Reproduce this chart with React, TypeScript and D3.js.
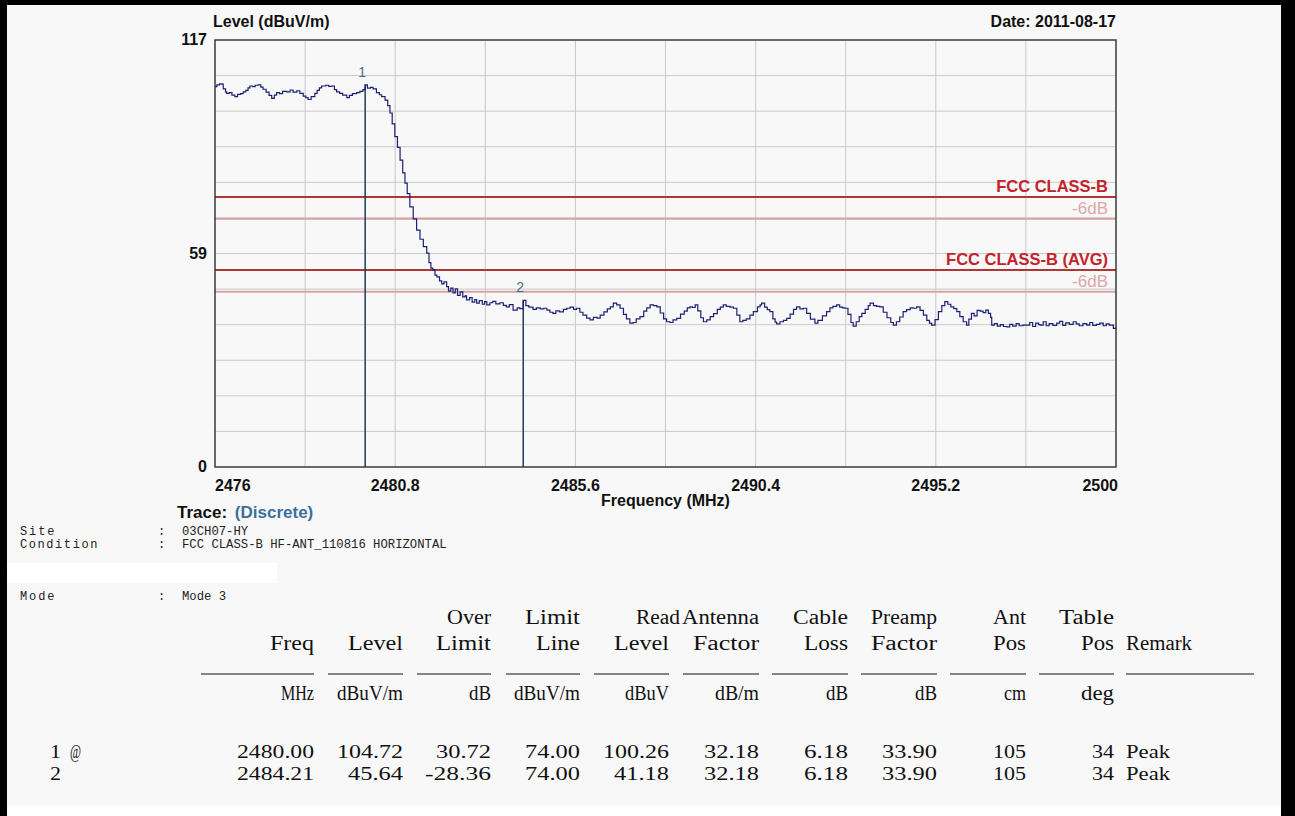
import React from "react";
import * as d3 from "d3";

// ---------------- data ----------------
const traceFreq = [
  2476.00, 2476.05, 2476.12, 2476.18, 2476.22, 2476.28, 2476.31, 2476.38, 2476.45, 2476.53,
  2476.60, 2476.68, 2476.75, 2476.82, 2476.88, 2476.93, 2477.00, 2477.07, 2477.15, 2477.22,
  2477.28, 2477.36, 2477.44, 2477.51, 2477.58, 2477.64, 2477.72, 2477.80, 2477.91, 2478.00,
  2478.08, 2478.18, 2478.26, 2478.35, 2478.42, 2478.48, 2478.56, 2478.66, 2478.72, 2478.78,
  2478.84, 2478.95, 2479.03, 2479.11, 2479.18, 2479.24, 2479.32, 2479.40, 2479.51, 2479.58,
  2479.66, 2479.77, 2479.86, 2479.94, 2480.00, 2480.06, 2480.14, 2480.21, 2480.30, 2480.38,
  2480.44, 2480.53, 2480.60, 2480.66, 2480.72, 2480.79, 2480.86, 2480.93, 2481.00, 2481.06,
  2481.12, 2481.19, 2481.28, 2481.37, 2481.46, 2481.55, 2481.64, 2481.70, 2481.75, 2481.80,
  2481.86, 2481.91, 2481.98, 2482.04, 2482.10, 2482.17, 2482.22, 2482.28, 2482.34, 2482.40,
  2482.46, 2482.53, 2482.60, 2482.66, 2482.70, 2482.78, 2482.85, 2482.92, 2482.97, 2483.04,
  2483.12, 2483.18, 2483.24, 2483.32, 2483.40, 2483.48, 2483.59, 2483.68, 2483.76, 2483.84,
  2483.94, 2484.05, 2484.12, 2484.21, 2484.28, 2484.36, 2484.47, 2484.56, 2484.66, 2484.76,
  2484.84, 2484.92, 2485.00, 2485.08, 2485.18, 2485.28, 2485.37, 2485.46, 2485.55, 2485.63,
  2485.72, 2485.80, 2485.90, 2485.99, 2486.08, 2486.18, 2486.26, 2486.36, 2486.45, 2486.53,
  2486.61, 2486.70, 2486.79, 2486.88, 2486.96, 2487.05, 2487.14, 2487.22, 2487.32, 2487.42,
  2487.50, 2487.59, 2487.68, 2487.77, 2487.86, 2487.95, 2488.03, 2488.12, 2488.20, 2488.30,
  2488.40, 2488.50, 2488.58, 2488.65, 2488.72, 2488.79, 2488.86, 2488.94, 2489.01, 2489.10,
  2489.19, 2489.28, 2489.38, 2489.46, 2489.54, 2489.62, 2489.72, 2489.81, 2489.90, 2489.98,
  2490.06, 2490.15, 2490.25, 2490.34, 2490.45, 2490.52, 2490.56, 2490.64, 2490.71, 2490.78,
  2490.86, 2490.92, 2490.96, 2491.05, 2491.14, 2491.23, 2491.32, 2491.41, 2491.49, 2491.58,
  2491.67, 2491.76, 2491.86, 2491.98, 2492.06, 2492.18, 2492.29, 2492.38, 2492.46, 2492.56,
  2492.64, 2492.72, 2492.78, 2492.86, 2492.94, 2493.00, 2493.08, 2493.16, 2493.23, 2493.32,
  2493.40, 2493.45, 2493.54, 2493.62, 2493.71, 2493.80, 2493.90, 2494.00, 2494.07, 2494.15,
  2494.24, 2494.33, 2494.42, 2494.52, 2494.60, 2494.69, 2494.78, 2494.87, 2494.96, 2495.03,
  2495.09, 2495.18, 2495.27, 2495.36, 2495.44, 2495.52, 2495.60, 2495.68, 2495.76, 2495.84,
  2495.93, 2496.02, 2496.08, 2496.15, 2496.22, 2496.30, 2496.38, 2496.46, 2496.53, 2496.60,
  2496.66, 2496.69, 2496.76, 2496.84, 2496.92, 2497.00, 2497.09, 2497.17, 2497.25, 2497.34,
  2497.42, 2497.52, 2497.62, 2497.70, 2497.78, 2497.86, 2497.94, 2497.98, 2498.06, 2498.14,
  2498.22, 2498.32, 2498.42, 2498.50, 2498.58, 2498.66, 2498.76, 2498.86, 2498.94, 2499.02,
  2499.12, 2499.22, 2499.30, 2499.38, 2499.48, 2499.57, 2499.66, 2499.74, 2499.82, 2499.93,
  2500.00,
];
const traceLevel = [
  104.2, 104.7, 105.0, 104.9, 103.6, 102.8, 102.4, 102.6, 101.9, 101.5,
  102.1, 102.3, 102.8, 103.2, 103.9, 104.4, 104.2, 104.6, 104.7, 104.1,
  103.5, 102.7, 101.8, 101.0, 101.9, 102.6, 102.3, 102.9, 102.8, 103.3,
  102.7, 103.1, 102.4, 101.6, 101.2, 100.7, 101.5, 102.4, 103.2, 103.9,
  104.4, 104.6, 104.3, 104.4, 103.4, 102.8, 102.4, 101.9, 101.2, 101.8,
  102.3, 102.6, 102.9, 103.4, 104.72, 103.8, 104.0, 103.6, 102.6, 102.0,
  101.5, 100.5, 99.0, 97.0, 94.0, 90.5, 87.6, 84.1, 80.6, 77.8,
  74.9, 71.3, 68.0, 64.9, 62.4, 60.4, 58.6, 56.0, 54.5, 54.0,
  52.6, 52.1, 51.0, 50.2, 50.7, 49.4, 48.2, 49.0, 47.7, 48.8,
  47.0, 48.0, 46.6, 46.9, 45.8, 46.4, 45.2, 45.9, 44.9, 45.6,
  44.6, 45.3, 44.4, 45.0, 45.4, 44.7, 45.0, 44.3, 43.9, 44.5,
  43.0, 43.6, 43.4, 45.64, 44.2, 43.8, 43.2, 43.6, 43.3, 43.5,
  43.0, 42.4, 42.1, 42.8, 42.5, 43.2, 43.5, 43.8, 43.2, 43.5,
  42.4, 41.6, 40.8, 40.3, 41.0, 40.8, 41.6, 42.5, 43.3, 43.9,
  44.9, 44.4, 43.5, 41.8, 40.6, 39.4, 39.6, 40.6, 41.2, 42.7,
  43.6, 44.4, 44.2, 43.9, 42.2, 40.6, 39.8, 39.6, 40.3, 40.7,
  41.9, 42.7, 43.6, 43.9, 43.7, 44.4, 42.8, 40.9, 39.8, 40.3,
  41.2, 42.0, 43.2, 43.8, 44.4, 44.0, 43.8, 43.5, 41.6, 39.8,
  40.2, 40.6, 41.6, 42.6, 43.9, 44.4, 44.9, 43.8, 43.1, 42.6,
  40.6, 39.7, 39.2, 39.8, 40.2, 40.7, 41.9, 43.2, 43.9, 43.3,
  43.5, 42.1, 40.5, 39.4, 40.2, 41.4, 42.6, 43.6, 44.0, 44.4,
  43.8, 43.6, 43.5, 41.8, 39.6, 38.6, 39.8, 41.2, 42.1, 43.2,
  44.2, 44.9, 44.2, 44.0, 43.9, 42.4, 40.9, 39.6, 38.9, 39.8,
  41.1, 42.6, 43.1, 43.6, 43.5, 43.9, 42.9, 41.6, 40.2, 39.4,
  38.9, 40.4, 42.6, 44.2, 45.3, 44.6, 43.9, 43.4, 42.6, 41.2,
  39.8, 38.9, 40.5, 42.1, 41.4, 42.9, 42.7, 42.3, 43.0, 42.1,
  41.0, 38.9, 39.3, 38.6, 39.0, 38.5, 38.4, 39.1, 38.6, 39.3,
  38.7, 38.9, 38.9, 39.6, 38.5, 39.4, 39.0, 38.9, 39.8, 38.7,
  39.3, 38.8, 39.4, 39.9, 38.8, 39.5, 39.1, 39.8, 39.2, 38.7,
  39.3, 38.9, 39.6, 38.8, 39.1, 39.4, 38.7, 39.2, 38.9, 38.0,
  38.3,
];

const markerIds = ["1", "2"];
const markerFreq = [2480.0, 2484.21];
const markerLevel = [104.72, 45.64];

const limitNames = ["FCC CLASS-B", "-6dB", "FCC CLASS-B (AVG)", "-6dB"];
const limitValues = [74, 68, 54, 48];
const limitIsMargin = [false, true, false, true];

const xDomain = [2476, 2500];
const yDomain = [0, 117];
const xTickValues = [2476, 2480.8, 2485.6, 2490.4, 2495.2, 2500];
const xTickLabels = ["2476", "2480.8", "2485.6", "2490.4", "2495.2", "2500"];
const xGridValues = [2478.4, 2480.8, 2483.2, 2485.6, 2488, 2490.4, 2492.8, 2495.2, 2497.6];
const yGridValues = [9.75, 19.5, 29.25, 39, 48.75, 58.5, 68.25, 78, 87.75, 97.5, 107.25];
const yTickValues = [117, 58.5, 0];
const yTickLabels = ["117", "59", "0"];

const infoLabels = ["Site", "Condition", "Mode"];
const infoValues = ["03CH07-HY", "FCC CLASS-B HF-ANT_110816 HORIZONTAL", "Mode 3"];

const headerTop = ["", "", "Over", "Limit", "Read", "Antenna", "Cable", "Preamp", "Ant", "Table"];
const headerBottom = ["Freq", "Level", "Limit", "Line", "Level", "Factor", "Loss", "Factor", "Pos", "Pos"];
const headerUnits = ["MHz", "dBuV/m", "dB", "dBuV/m", "dBuV", "dB/m", "dB", "dB", "cm", "deg"];
const remarkHeader = "Remark";
const rowIds = ["1", "2"];
const rowFlags = ["@", ""];
const rowValues = [
  ["2480.00", "104.72", "30.72", "74.00", "100.26", "32.18", "6.18", "33.90", "105", "34"],
  ["2484.21", "45.64", "-28.36", "74.00", "41.18", "32.18", "6.18", "33.90", "105", "34"],
];
const rowRemarks = ["Peak", "Peak"];

// ---------------- layout ----------------
const W = 1295;
const H = 816;
const PL = 215, PR = 1116, PT = 40, PB = 467;
const SANS = "'Liberation Sans', Arial, sans-serif";
const SERIF = "'Liberation Serif', 'Times New Roman', serif";
const MONO = "'Liberation Mono', 'DejaVu Sans Mono', monospace";
const CW = 11;
const colEnds = [314, 403, 491, 580, 669, 759, 848, 937, 1026, 1114];
const colUnderlineStart = [201, 328, 417, 506, 594, 683, 772, 861, 950, 1039];
const remarkX = 1126;
const remarkUnderlineEnd = 1254;

function Mono({ x, y, text, anchor = "end", size = 21, cw = CW }: any) {
  if (!text) return null;
  return (
    <text
      x={x}
      y={y}
      textAnchor={anchor}
      fontFamily={SERIF}
      fontSize={size}
      textLength={text.length * cw}
      lengthAdjust="spacingAndGlyphs"
      fill="#111"
    >
      {text}
    </text>
  );
}

export default function App() {
  const x = d3.scaleLinear().domain(xDomain).range([PL, PR]);
  const y = d3.scaleLinear().domain(yDomain).range([PB, PT]);
  const pts = traceFreq.map((f, i) => [f, traceLevel[i]] as [number, number]);
  const line = d3
    .line<[number, number]>()
    .x((d) => x(d[0]))
    .y((d) => y(d[1]))
    .curve(d3.curveStepAfter);

  const rowTop = 624;
  const rowBot = 650;
  const ulY = 674;
  const unitsY = 700;
  const dataY = [758, 780];
  const dataSize = 19.5;

  return (
    <svg
      width={W}
      height={H}
      style={{ position: "absolute", left: 0, top: 0, display: "block" }}
      xmlns="http://www.w3.org/2000/svg"
    >
      {/* frame */}
      <rect x={0} y={0} width={W} height={H} fill="#000" />
      <rect x={7} y={5} width={1274} height={H - 5} fill="#f8f8f8" />
      <rect x={7} y={806} width={1274} height={10} fill="#fff" />
      <rect x={7} y={563} width={270} height={20} fill="#fff" />

      {/* grid */}
      {xGridValues.map((v) => (
        <line key={"gx" + v} x1={x(v)} x2={x(v)} y1={PT} y2={PB} stroke="#c9c9c9" strokeWidth={1} />
      ))}
      {yGridValues.map((v) => (
        <line key={"gy" + v} x1={PL} x2={PR} y1={y(v)} y2={y(v)} stroke="#c9c9c9" strokeWidth={1} />
      ))}

      {/* limit lines */}
      {limitValues.map((v, i) => (
        <line
          key={"lim" + i}
          x1={PL}
          x2={PR}
          y1={y(v)}
          y2={y(v)}
          stroke={limitIsMargin[i] ? "#d9a3a3" : "#b03636"}
          strokeWidth={2}
        />
      ))}
      {limitValues.map((v, i) => (
        <text
          key={"liml" + i}
          x={PR - 8}
          y={y(v) - 5}
          textAnchor="end"
          fontFamily={SANS}
          fontWeight={limitIsMargin[i] ? 400 : 700}
          fontSize={limitIsMargin[i] ? 17 : 16.5}
          fill={limitIsMargin[i] ? "#e0a7a7" : "#c4232b"}
        >
          {limitNames[i]}
        </text>
      ))}

      {/* markers */}
      {markerFreq.map((f, i) => (
        <g key={"m" + i}>
          <line x1={x(f)} x2={x(f)} y1={PB} y2={y(markerLevel[i])} stroke="#1e3c5c" strokeWidth={1.5} />
          <text
            x={x(f) - 3}
            y={y(markerLevel[i]) - 8}
            textAnchor="middle"
            fontFamily={SANS}
            fontSize={14}
            fill="#4f6a86"
          >
            {markerIds[i]}
          </text>
        </g>
      ))}

      {/* trace */}
      <path d={line(pts) || ""} fill="none" stroke="#1d1f74" strokeWidth={1.2} />

      {/* plot border */}
      <rect x={PL} y={PT} width={PR - PL} height={PB - PT} fill="none" stroke="#3a3a3a" strokeWidth={1.5} />

      {/* axis labels */}
      {yTickValues.map((v, i) => (
        <text
          key={"yt" + v}
          x={207}
          y={y(v) + 5}
          textAnchor="end"
          fontFamily={SANS}
          fontWeight={700}
          fontSize={16}
          fill="#111"
        >
          {yTickLabels[i]}
        </text>
      ))}
      {xTickValues.map((v, i) => (
        <text
          key={"xt" + v}
          x={i === 0 ? x(v) : i === xTickValues.length - 1 ? x(v) + 2 : x(v)}
          y={PB + 24}
          textAnchor={i === 0 ? "start" : i === xTickValues.length - 1 ? "end" : "middle"}
          fontFamily={SANS}
          fontWeight={700}
          fontSize={16}
          fill="#111"
        >
          {xTickLabels[i]}
        </text>
      ))}
      <text x={PL - 2} y={27} fontFamily={SANS} fontWeight={700} fontSize={16} fill="#111">
        Level (dBuV/m)
      </text>
      <text x={PR} y={27} textAnchor="end" fontFamily={SANS} fontWeight={700} fontSize={16} fill="#111">
        Date: 2011-08-17
      </text>
      <text x={(PL + PR) / 2} y={PB + 39} textAnchor="middle" fontFamily={SANS} fontWeight={700} fontSize={16} fill="#111">
        Frequency (MHz)
      </text>

      {/* trace info */}
      <text x={177} y={518} fontFamily={SANS} fontWeight={700} fontSize={17} fill="#111">
        Trace:{" "}
        <tspan fill="#3b6f9c" dx={3}>(Discrete)</tspan>
      </text>
      {infoLabels.map((lab, i) => {
        const yy = [535, 548, 600][i];
        return (
          <g key={"info" + i}>
            <text x={20} y={yy} fontFamily={MONO} fontSize={12} fill="#222" textLength={lab.length * 8.6} lengthAdjust="spacing">
              {lab}
            </text>
            <text x={158} y={yy} fontFamily={MONO} fontSize={12} fill="#222">
              :
            </text>
            <text x={182} y={yy} fontFamily={MONO} fontSize={12} fill="#222" textLength={infoValues[i].length * 7.35} lengthAdjust="spacingAndGlyphs">
              {infoValues[i]}
            </text>
          </g>
        );
      })}

      {/* table header */}
      {headerTop.map((t, i) => (
        <Mono key={"ht" + i} x={colEnds[i] + (t === "Read" ? CW : 0)} y={rowTop} text={t} size={20} />
      ))}
      {headerBottom.map((t, i) => (
        <Mono key={"hb" + i} x={colEnds[i]} y={rowBot} text={t} size={20} />
      ))}
      <Mono x={remarkX} y={rowBot} text={remarkHeader} anchor="start" size={20} />
      {colEnds.map((e, i) => (
        <line key={"ul" + i} x1={colUnderlineStart[i]} x2={e} y1={ulY} y2={ulY} stroke="#111" strokeWidth={1.2} />
      ))}
      <line x1={remarkX} x2={remarkUnderlineEnd} y1={ulY} y2={ulY} stroke="#111" strokeWidth={1.2} />
      {headerUnits.map((t, i) => (
        <Mono key={"hu" + i} x={colEnds[i]} y={unitsY} text={t} size={20} />
      ))}

      {/* table rows */}
      {rowValues.map((row, r) => (
        <g key={"row" + r}>
          <Mono x={50} y={dataY[r]} text={rowIds[r]} anchor="start" size={dataSize} />
          <Mono x={70} y={dataY[r]} text={rowFlags[r]} anchor="start" size={dataSize} />
          {row.map((v, c) => (
            <Mono key={"c" + c} x={colEnds[c]} y={dataY[r]} text={v} size={dataSize} />
          ))}
          <Mono x={remarkX} y={dataY[r]} text={rowRemarks[r]} anchor="start" size={dataSize} />
        </g>
      ))}
    </svg>
  );
}
